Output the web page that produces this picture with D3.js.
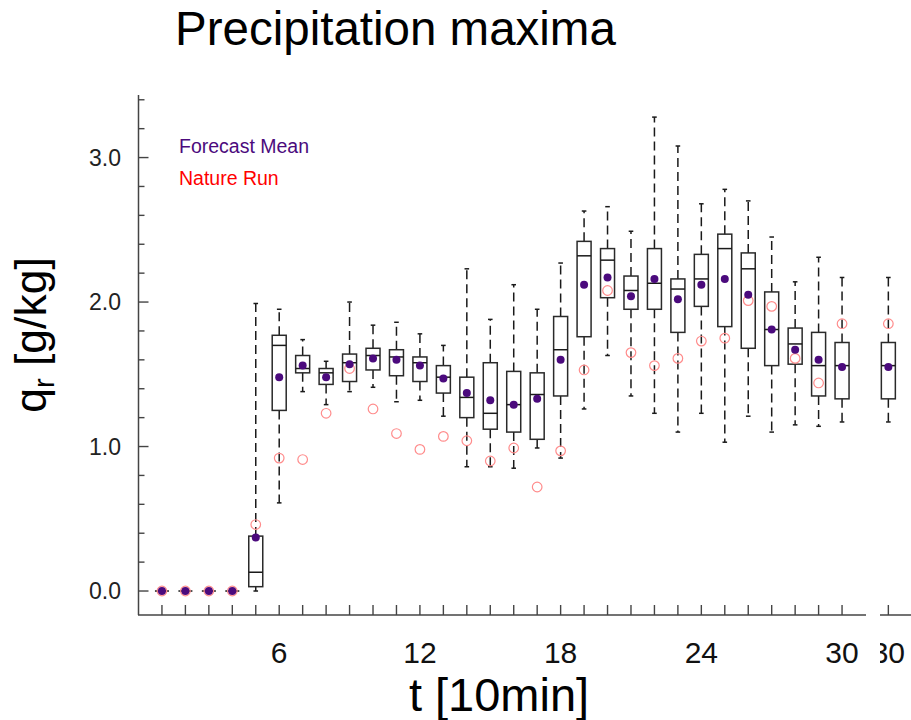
<!DOCTYPE html>
<html>
<head>
<meta charset="utf-8">
<script src="https://cdn.jsdelivr.net/npm/d3@7.9.0/dist/d3.min.js"></script>
<style>
  body { margin: 0; background: #fff; }
  text { font-family: "Liberation Sans", Arial, Helvetica, sans-serif; }
</style>
</head>
<body>
<svg id="chart" width="911" height="720"></svg>
<script>
// ===== DATA =====
const steps    = d3.range(1, 31);
const whiskLo  = [0, 0, 0, 0, 0.00, 0.61, 1.38, 1.29, 1.38, 1.41, 1.31, 1.32, 1.21, 0.86, 0.86, 0.85, 0.99, 0.92, 1.26, 1.63, 1.35, 1.23, 1.10, 1.23, 1.03, 1.21, 1.10, 1.15, 1.14, 1.17];
const q1       = [0, 0, 0, 0, 0.03, 1.25, 1.51, 1.43, 1.45, 1.53, 1.49, 1.45, 1.37, 1.20, 1.12, 1.10, 1.05, 1.35, 1.76, 2.03, 1.95, 1.95, 1.79, 1.97, 1.83, 1.68, 1.56, 1.57, 1.35, 1.33];
const median   = [0, 0, 0, 0, 0.13, 1.70, 1.54, 1.51, 1.58, 1.63, 1.62, 1.58, 1.48, 1.34, 1.23, 1.29, 1.36, 1.67, 2.32, 2.29, 2.08, 2.13, 2.09, 2.16, 2.37, 2.23, 1.81, 1.71, 1.56, 1.56];
const q3       = [0, 0, 0, 0, 0.38, 1.77, 1.63, 1.54, 1.64, 1.68, 1.67, 1.62, 1.56, 1.48, 1.58, 1.52, 1.51, 1.90, 2.42, 2.37, 2.18, 2.37, 2.16, 2.33, 2.47, 2.34, 2.07, 1.82, 1.79, 1.72];
const whiskHi  = [0, 0, 0, 0, 1.99, 1.95, 1.74, 1.59, 2.00, 1.84, 1.86, 1.78, 1.70, 2.23, 1.88, 2.12, 1.95, 2.27, 2.63, 2.66, 2.49, 3.28, 3.08, 2.68, 2.78, 2.70, 2.45, 2.14, 2.31, 2.17];
const fcMean   = [0, 0, 0, 0, 0.37, 1.48, 1.56, 1.48, 1.57, 1.61, 1.60, 1.56, 1.47, 1.37, 1.32, 1.29, 1.33, 1.60, 2.12, 2.17, 2.04, 2.16, 2.02, 2.12, 2.16, 2.05, 1.81, 1.67, 1.60, 1.55];
const nature   = [0, 0, 0, 0, 0.46, 0.92, 0.91, 1.23, 1.54, 1.26, 1.09, 0.98, 1.07, 1.04, 0.90, 0.99, 0.72, 0.97, 1.53, 2.08, 1.65, 1.56, 1.61, 1.73, 1.75, 2.01, 1.97, 1.61, 1.44, 1.85];
const xTickLabels = [6, 12, 18, 24, 30];
const yTickLabels = [0, 1, 2, 3];
const legendItems = [
  { label: "Forecast Mean", color: "#4b0a7d" },
  { label: "Nature Run", color: "#ff0000" }
];

const boxes = steps.map((t, i) => ({
  t, lo: whiskLo[i], q1: q1[i], med: median[i], q3: q3[i], hi: whiskHi[i],
  mean: fcMean[i], nature: nature[i]
}));

const svg = d3.select("#chart");
svg.append("rect").attr("width", 911).attr("height", 720).attr("fill", "#fff");

const x = d3.scaleLinear().domain([0, 31]).range([138.5, 865.5]);
const y = d3.scaleLinear().domain([-0.166, 3.433]).range([615, 95]);
// second (cut-off) panel repeating the last step
const xb = x.copy().range([138.5 + 46.3, 865.5 + 46.3]);

const boxW = 14;
const meanColor = "#4b0a7d";
const natureColor = "#ff8c8c";

function drawBoxes(g, sx, data) {
  const grp = g.selectAll(".box").data(data).enter().append("g").attr("class", "box");

  // whiskers (dashed)
  grp.append("line")
    .attr("x1", d => sx(d.t)).attr("x2", d => sx(d.t))
    .attr("y1", d => y(d.q3)).attr("y2", d => y(d.hi))
    .attr("stroke", "#1a1a1a").attr("stroke-width", 1.5)
    .attr("stroke-dasharray", "9 5");
  grp.append("line")
    .attr("x1", d => sx(d.t)).attr("x2", d => sx(d.t))
    .attr("y1", d => y(d.q1)).attr("y2", d => y(d.lo))
    .attr("stroke", "#1a1a1a").attr("stroke-width", 1.5)
    .attr("stroke-dasharray", "9 5");
  // caps
  ["hi", "lo"].forEach(k => {
    grp.append("line")
      .attr("x1", d => sx(d.t) - 2.3).attr("x2", d => sx(d.t) + 2.3)
      .attr("y1", d => y(d[k])).attr("y2", d => y(d[k]))
      .attr("stroke", "#1a1a1a").attr("stroke-width", 1.5);
  });
  // box
  grp.append("rect")
    .attr("x", d => sx(d.t) - boxW / 2)
    .attr("y", d => y(d.q3))
    .attr("width", boxW)
    .attr("height", d => y(d.q1) - y(d.q3))
    .attr("fill", "none")
    .attr("stroke", "#2a2a2a").attr("stroke-width", 1.5);
  // median
  grp.append("line")
    .attr("x1", d => sx(d.t) - boxW / 2).attr("x2", d => sx(d.t) + boxW / 2)
    .attr("y1", d => y(d.med)).attr("y2", d => y(d.med))
    .attr("stroke", "#1a1a1a").attr("stroke-width", 1.5);
  // nature run
  grp.append("circle")
    .attr("cx", d => sx(d.t)).attr("cy", d => y(d.nature)).attr("r", 4.8)
    .attr("fill", "none").attr("stroke", natureColor).attr("stroke-width", 1.2);
  // forecast mean
  grp.append("circle")
    .attr("cx", d => sx(d.t)).attr("cy", d => y(d.mean)).attr("r", 4)
    .attr("fill", meanColor);
}

// ===== MAIN PANEL =====
const main = svg.append("g");
drawBoxes(main, x, boxes);

// y axis
const yAxis = svg.append("g").attr("transform", "translate(138.5,0)");
yAxis.append("line").attr("y1", 95).attr("y2", 615).attr("stroke", "#444").attr("stroke-width", 1.5);
yAxis.selectAll(".ytick").data(d3.range(0, 3.41, 0.2)).enter().append("line")
  .attr("x1", 0)
  .attr("x2", d => Math.abs(d - Math.round(d)) < 1e-6 ? 10 : 6)
  .attr("y1", d => y(d)).attr("y2", d => y(d))
  .attr("stroke", "#444").attr("stroke-width", 1.4);
svg.selectAll(".ylab").data(yTickLabels).enter().append("text")
  .attr("x", 121).attr("y", d => y(d) + 8)
  .attr("text-anchor", "end").attr("font-size", "23px").attr("fill", "#222")
  .text(d => d3.format(".1f")(d));

// x axis
const xAxis = svg.append("g").attr("transform", "translate(0,615)");
xAxis.append("line").attr("x1", 138).attr("x2", 866).attr("stroke", "#444").attr("stroke-width", 1.5);
xAxis.selectAll(".xtick").data(steps).enter().append("line")
  .attr("x1", d => x(d)).attr("x2", d => x(d))
  .attr("y1", 0).attr("y2", -10)
  .attr("stroke", "#444").attr("stroke-width", 1.4);
svg.selectAll(".xlab").data(xTickLabels).enter().append("text")
  .attr("x", d => x(d)).attr("y", 663)
  .attr("text-anchor", "middle").attr("font-size", "30px").attr("fill", "#111")
  .text(d => d);

// ===== SECOND (CLIPPED) PANEL =====
svg.append("clipPath").attr("id", "clipB")
  .append("rect").attr("x", 880).attr("y", 0).attr("width", 40).attr("height", 720);
const panelB = svg.append("g").attr("clip-path", "url(#clipB)");
drawBoxes(panelB, xb, boxes.filter(d => d.t === 30));
panelB.append("line").attr("x1", 880).attr("x2", 911).attr("y1", 615).attr("y2", 615)
  .attr("stroke", "#444").attr("stroke-width", 1.5);
panelB.append("line").attr("x1", xb(30)).attr("x2", xb(30)).attr("y1", 615).attr("y2", 605)
  .attr("stroke", "#444").attr("stroke-width", 1.4);
panelB.append("text").attr("x", xb(30)).attr("y", 663)
  .attr("text-anchor", "middle").attr("font-size", "30px").attr("fill", "#111")
  .text(xTickLabels[xTickLabels.length - 1]);

// ===== LEGEND =====
svg.selectAll(".legend").data(legendItems).enter().append("text")
  .attr("x", 179).attr("y", (d, i) => 153 + i * 32)
  .attr("font-size", "19.5px").attr("fill", d => d.color)
  .text(d => d.label);

// ===== TITLES =====
svg.append("text")
  .attr("x", 175).attr("y", 45)
  .attr("font-size", "47.5px").attr("fill", "#000")
  .text("Precipitation maxima");

svg.append("text")
  .attr("x", 499).attr("y", 711)
  .attr("text-anchor", "middle")
  .attr("font-size", "47px").attr("fill", "#000")
  .text("t [10min]");

const yTitle = svg.append("text")
  .attr("transform", "translate(46,335) rotate(-90)")
  .attr("text-anchor", "middle")
  .attr("font-size", "44.5px").attr("fill", "#000");
yTitle.append("tspan").text("q");
yTitle.append("tspan").attr("font-size", "29px").attr("dy", 8).text("r");
yTitle.append("tspan").attr("dy", -8).text(" [g/kg]");
</script>
</body>
</html>
